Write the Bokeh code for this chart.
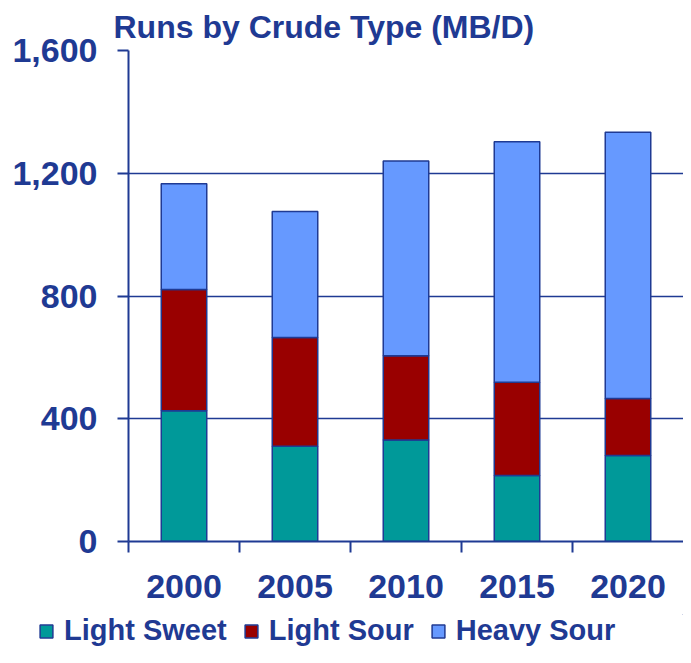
from bokeh.plotting import figure
from bokeh.layouts import column
from bokeh.models import ColumnDataSource, Range1d, FixedTicker, Legend, LegendItem
from bokeh.embed import file_html
from bokeh.resources import INLINE

years = ["2000", "2005", "2010", "2015", "2020"]
light_sweet = [426, 310, 331, 215, 280]
light_sour = [395, 355, 274, 304, 186]
heavy_sour = [345, 410, 635, 784, 868]
series_names = ["Light Sweet", "Light Sour", "Heavy Sour"]
series_colors = ["#009999", "#990000", "#6699ff"]
y_ticks = [0, 400, 800, 1200, 1600]
y_tick_labels = ["0", "400", "800", "1,200", "1,600"]

NAVY = "#1f3a93"
FONT = "Liberation Sans"

xs = [i + 0.5 for i in range(len(years))]
source = ColumnDataSource(dict(x=xs, light_sweet=light_sweet, light_sour=light_sour, heavy_sour=heavy_sour))

p = figure(width=683, height=614, output_backend="svg", toolbar_location=None,
           x_range=Range1d(0, len(years)), y_range=Range1d(0, 1600),
           min_border_left=128, min_border_right=0, min_border_top=50, min_border_bottom=73)
p.outline_line_color = None
p.background_fill_color = "white"
p.frame_align = False

renderers = p.vbar_stack(["light_sweet", "light_sour", "heavy_sour"], x="x", width=0.41, source=source,
                         fill_color=series_colors, line_color=NAVY, line_width=1.5)

p.title.text = "Runs by Crude Type (MB/D)"
p.title.align = "left"
p.title.offset = -15
p.title.standoff = 12
p.title.text_font = FONT
p.title.text_font_size = "32px"
p.title.text_font_style = "bold"
p.title.text_color = NAVY

# y axis
ya = p.yaxis[0]
ya.ticker = FixedTicker(ticks=y_ticks)
ya.major_label_overrides = {t: l for t, l in zip(y_ticks, y_tick_labels)}
ya.major_tick_out = 11
ya.major_tick_in = 0
ya.minor_tick_line_color = None
ya.major_tick_line_color = NAVY
ya.major_tick_line_width = 2
ya.axis_line_color = NAVY
ya.axis_line_width = 2
ya.major_label_text_font = FONT
ya.major_label_text_font_size = "34px"
ya.major_label_text_font_style = "bold"
ya.major_label_text_color = NAVY
ya.major_label_standoff = 20

# x axis
xa = p.xaxis[0]
xa.ticker = FixedTicker(ticks=xs, minor_ticks=list(range(len(years))))
xa.major_label_overrides = {x: y for x, y in zip(xs, years)}
xa.major_tick_out = 11
xa.major_tick_in = 0
xa.major_tick_line_color = None
xa.minor_tick_out = 11
xa.minor_tick_in = 0
xa.minor_tick_line_color = NAVY
xa.minor_tick_line_width = 2
xa.axis_line_color = NAVY
xa.axis_line_width = 2
xa.major_label_text_font = FONT
xa.major_label_text_font_size = "34px"
xa.major_label_text_font_style = "bold"
xa.major_label_text_color = NAVY
xa.major_label_standoff = 22

p.xgrid.grid_line_color = None
p.ygrid.ticker = FixedTicker(ticks=y_ticks[1:])
p.ygrid.grid_line_color = NAVY
p.ygrid.grid_line_width = 1.5

# legend strip
lg = figure(width=683, height=33, output_backend="svg", toolbar_location=None,
            x_range=Range1d(0, 1), y_range=Range1d(0, 1),
            x_axis_type=None, y_axis_type=None,
            min_border_left=0, min_border_right=0, min_border_top=0, min_border_bottom=0)
lg.frame_align = False
lg.grid.visible = False
lg.outline_line_color = None
items = []
for name, col in zip(series_names, series_colors):
    # legend swatch renderers: kept entirely outside the visible ranges
    r = lg.vbar(x=[50], bottom=[50], top=[51], width=0.1, fill_color=col, line_color=NAVY, line_width=1.5)
    items.append(LegendItem(label=name, renderers=[r]))
legend = Legend(items=items, orientation="horizontal", location=(38, 0),
                glyph_width=16, glyph_height=16, label_standoff=10, spacing=16,
                padding=0, margin=0, background_fill_alpha=0, border_line_alpha=0,
                label_text_font=FONT, label_text_font_size="29px", label_text_font_style="bold",
                label_text_color=NAVY)
lg.add_layout(legend, "center")

open("out.html", "w").write(file_html(column(p, lg), INLINE))
